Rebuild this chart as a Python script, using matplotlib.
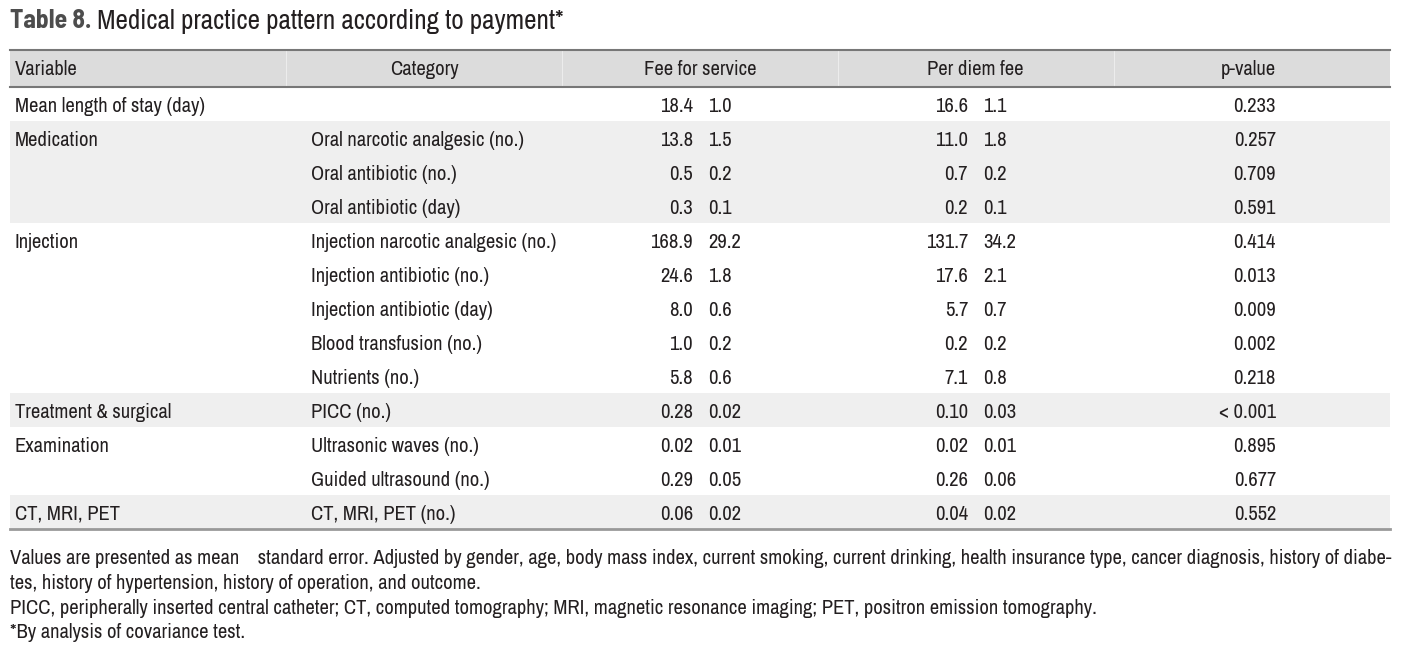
import matplotlib.pyplot as plt
from matplotlib.patches import Rectangle

plt.rcParams['font.family'] = ['Archivo Narrow', 'DejaVu Sans']
plt.rcParams['font.stretch'] = 'condensed'

# table contents
headers = ['Variable', 'Category', 'Fee for service', 'Per diem fee', 'p-value']
variables = ['Mean length of stay (day)', 'Medication', '', '', 'Injection', '', '', '', '',
             'Treatment & surgical', 'Examination', '', 'CT, MRI, PET']
categories = ['', 'Oral narcotic analgesic (no.)', 'Oral antibiotic (no.)', 'Oral antibiotic (day)',
              'Injection narcotic analgesic (no.)', 'Injection antibiotic (no.)',
              'Injection antibiotic (day)', 'Blood transfusion (no.)', 'Nutrients (no.)',
              'PICC (no.)', 'Ultrasonic waves (no.)', 'Guided ultrasound (no.)', 'CT, MRI, PET (no.)']
fee_mean = ['18.4', '13.8', '0.5', '0.3', '168.9', '24.6', '8.0', '1.0', '5.8', '0.28', '0.02', '0.29', '0.06']
fee_se = ['1.0', '1.5', '0.2', '0.1', '29.2', '1.8', '0.6', '0.2', '0.6', '0.02', '0.01', '0.05', '0.02']
diem_mean = ['16.6', '11.0', '0.7', '0.2', '131.7', '17.6', '5.7', '0.2', '7.1', '0.10', '0.02', '0.26', '0.04']
diem_se = ['1.1', '1.8', '0.2', '0.1', '34.2', '2.1', '0.7', '0.2', '0.8', '0.03', '0.01', '0.06', '0.02']
pvals = ['0.233', '0.257', '0.709', '0.591', '0.414', '0.013', '0.009', '0.002', '0.218',
         '< 0.001', '0.895', '0.677', '0.552']

title_bold = 'Table 8.'
title_rest = ' Medical practice pattern according to payment*'
notes = ['Values are presented as mean    standard error. Adjusted by gender, age, body mass index, current smoking, current drinking, health insurance type, cancer diagnosis, history of diabe-',
         'tes, history of hypertension, history of operation, and outcome.',
         'PICC, peripherally inserted central catheter; CT, computed tomography; MRI, magnetic resonance imaging; PET, positron emission tomography.',
         '*By analysis of covariance test.']

fig = plt.figure(figsize=(14.08, 6.58), dpi=100)
ax = fig.add_axes([0, 0, 1, 1])
ax.set_xlim(0, 1408)
ax.set_ylim(658, 0)
ax.axis('off')

txt = '#231f20'
fs = 14.8
left, right = 10, 1390
head_top, head_bot = 50, 87
row_h = 34

# title
t = ax.text(10, 21, title_bold, fontsize=18.5, fontweight='bold', color='#4d4d4d', va='center',
            family=['Barlow Semi Condensed', 'DejaVu Sans'])
fig.canvas.draw()
bb = t.get_window_extent()
ax.text(10 + bb.width, 21, title_rest, fontsize=19.5, color=txt, va='center')

# header band
ax.add_patch(Rectangle((left, head_top), right - left, head_bot - head_top, color='#dcdcdc', lw=0))
for xv in [286, 562, 838, 1114]:
    ax.plot([xv, xv], [head_top, head_bot], color='#ececec', lw=0.8)
ax.plot([left, right], [head_top, head_top], color='#777777', lw=1.5)
ax.plot([left, right], [head_bot, head_bot], color='#777777', lw=1.5)

hy = (head_top + head_bot) / 2 + 1
ax.text(15, hy, headers[0], fontsize=fs, color=txt, va='center')
ax.text(424, hy, headers[1], fontsize=fs, color=txt, va='center', ha='center')
ax.text(700, hy, headers[2], fontsize=fs, color=txt, va='center', ha='center')
ax.text(975, hy, headers[3], fontsize=fs, color=txt, va='center', ha='center')
ax.text(1248, hy, headers[4], fontsize=fs, color=txt, va='center', ha='center')

# group shading: alternate per variable group
group = -1
for i in range(len(variables)):
    if variables[i] != '':
        group += 1
    y0 = head_bot + i * row_h
    if group % 2 == 1:
        ax.add_patch(Rectangle((left, y0), right - left, row_h, color='#efefef', lw=0))
    yc = y0 + row_h / 2 + 2
    ax.text(15, yc, variables[i], fontsize=fs, color=txt, va='center')
    ax.text(311, yc, categories[i], fontsize=fs, color=txt, va='center')
    ax.text(693, yc, fee_mean[i], fontsize=fs, color=txt, va='center', ha='right')
    ax.text(708, yc, fee_se[i], fontsize=fs, color=txt, va='center', ha='left')
    ax.text(968, yc, diem_mean[i], fontsize=fs, color=txt, va='center', ha='right')
    ax.text(983, yc, diem_se[i], fontsize=fs, color=txt, va='center', ha='left')
    ax.text(1276, yc, pvals[i], fontsize=fs, color=txt, va='center', ha='right')

bottom = head_bot + len(variables) * row_h
ax.plot([left, right], [bottom, bottom], color='#999999', lw=2)

# footnotes
for k, line in enumerate(notes):
    ax.text(10, 559 + k * 24.5, line, fontsize=14.8, color=txt, va='center')

plt.savefig('out.png', dpi=100)
